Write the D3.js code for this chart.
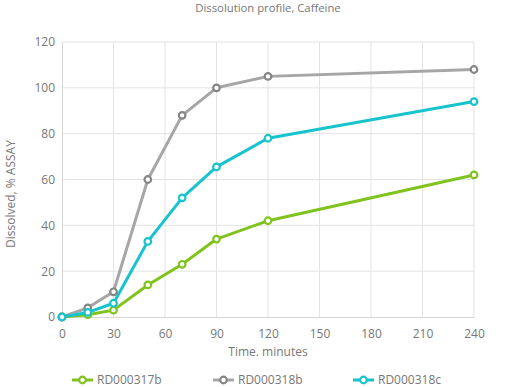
<!DOCTYPE html>
<html>
<head>
<meta charset="utf-8">
<script src="https://cdnjs.cloudflare.com/ajax/libs/d3/7.8.5/d3.min.js"></script>
<style>
  body { margin: 0; background: #fff; font-family: "Open Sans", sans-serif; }
  .tick text { fill: #777; font-size: 12px; font-family: "Open Sans", sans-serif; }
</style>
</head>
<body>
<div class="chart"></div>
<script>
// chart data
var minutes = [0, 15, 30, 50, 70, 90, 120, 240];
var rd317b = [0, 1, 3, 14, 23, 34, 42, 62];
var rd318b = [0, 4, 11, 60, 88, 100, 105, 108];
var rd318c = [0, 2, 6, 33, 52, 65.5, 78, 94];
var seriesNames = ["RD000317b", "RD000318b", "RD000318c"];
var xTicks = [0, 30, 60, 90, 120, 150, 180, 210, 240];
var yTicks = [0, 20, 40, 60, 80, 100, 120];

var colors = ["#80c31c", "#a6a6a6", "#17c4cd"];
var markerColors = ["#80c31c", "#858585", "#17c4cd"];

var svgWidth = 525, svgHeight = 387;
var margin = { top: 42, right: 51, bottom: 70, left: 62 };
var width = svgWidth - margin.left - margin.right;
var height = svgHeight - margin.top - margin.bottom;

var svg = d3.select(".chart").append("svg")
  .attr("width", svgWidth)
  .attr("height", svgHeight);

var chartGroup = svg.append("g")
  .attr("transform", `translate(${margin.left}, ${margin.top})`);

var x = d3.scaleLinear().domain([0, 240]).range([0, width]);
var y = d3.scaleLinear().domain([0, 120]).range([height, 0]);

// grid lines
chartGroup.append("g").selectAll("line")
  .data(yTicks.slice(1))
  .enter().append("line")
  .attr("x1", 0).attr("x2", width)
  .attr("y1", d => y(d)).attr("y2", d => y(d))
  .attr("stroke", "#e3e3e3");

chartGroup.append("g").selectAll("line")
  .data(xTicks.slice(1))
  .enter().append("line")
  .attr("x1", d => x(d)).attr("x2", d => x(d))
  .attr("y1", 0).attr("y2", height)
  .attr("stroke", "#e3e3e3");

// axes
var bottomAxis = d3.axisBottom(x).tickValues(xTicks).tickSize(0).tickPadding(12);
var leftAxis = d3.axisLeft(y).tickValues(yTicks).tickSize(0).tickPadding(7);

var xAxis = chartGroup.append("g")
  .attr("transform", `translate(0, ${height})`)
  .call(bottomAxis);
xAxis.select(".domain").attr("stroke", "#d6d6d6");

var yAxis = chartGroup.append("g").call(leftAxis);
yAxis.select(".domain").attr("stroke", "#d6d6d6");

// lines + markers
var allSeries = [rd317b, rd318b, rd318c];
var line = d3.line()
  .x((d, i) => x(minutes[i]))
  .y(d => y(d));

allSeries.forEach(function(values, s) {
  chartGroup.append("path")
    .datum(values)
    .attr("fill", "none")
    .attr("stroke", colors[s])
    .attr("stroke-width", 3)
    .attr("stroke-linejoin", "round")
    .attr("d", line);
});

allSeries.forEach(function(values, s) {
  chartGroup.append("g").selectAll("circle")
    .data(values)
    .enter().append("circle")
    .attr("cx", (d, i) => x(minutes[i]))
    .attr("cy", d => y(d))
    .attr("r", 3.3)
    .attr("fill", "#fff")
    .attr("stroke", markerColors[s])
    .attr("stroke-width", 2.2);
});

// title + axis labels
svg.append("text")
  .attr("x", margin.left + width / 2)
  .attr("y", 12)
  .attr("text-anchor", "middle")
  .attr("fill", "#777")
  .style("font-size", "11.3px")
  .text("Dissolution profile, Caffeine");

svg.append("text")
  .attr("x", margin.left + width / 2)
  .attr("y", 356)
  .attr("text-anchor", "middle")
  .attr("fill", "#777")
  .style("font-size", "12px")
  .text("Time. minutes");

svg.append("text")
  .attr("transform", "translate(15, 194) rotate(-90)")
  .attr("text-anchor", "middle")
  .attr("fill", "#777")
  .style("font-size", "12px")
  .text("Dissolved, % ASSAY");

// legend
var legendX = [72, 213, 353];
var legend = svg.append("g").attr("transform", "translate(0, 380)");
seriesNames.forEach(function(name, s) {
  var g = legend.append("g").attr("transform", `translate(${legendX[s]}, 0)`);
  g.append("line")
    .attr("x1", 0).attr("x2", 21)
    .attr("stroke", colors[s]).attr("stroke-width", 3);
  g.append("circle")
    .attr("cx", 10.5).attr("r", 3.3)
    .attr("fill", "#fff")
    .attr("stroke", markerColors[s]).attr("stroke-width", 2.2);
  g.append("text")
    .attr("x", 25).attr("y", 4)
    .attr("fill", "#777")
    .style("font-size", "12px")
    .text(name);
});
</script>
</body>
</html>
